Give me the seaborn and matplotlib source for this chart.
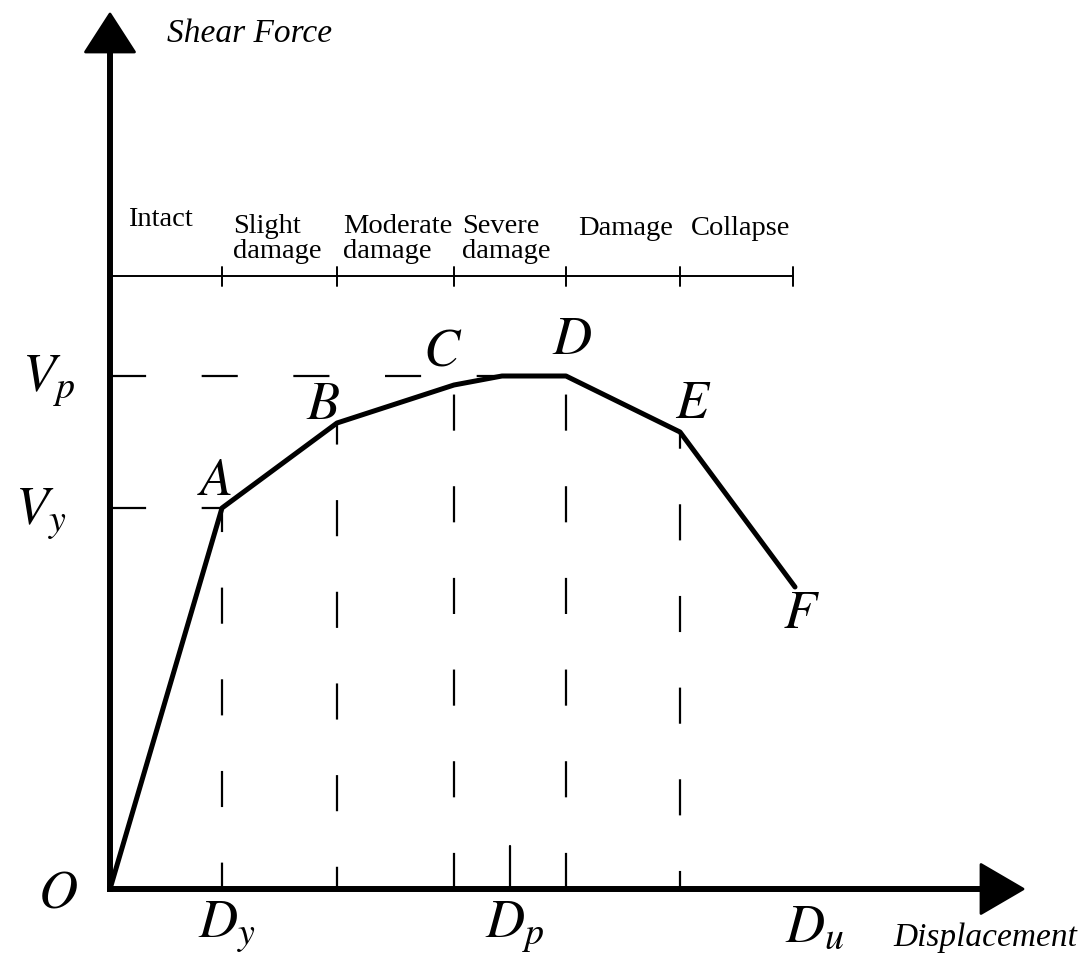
import matplotlib
matplotlib.use("Agg")
import matplotlib.pyplot as plt
import seaborn as sns

# Capacity curve points: O, A, B, C, (start of plateau), D, E, F
disp = [0.0, 1.12, 2.27, 3.44, 3.92, 4.56, 5.70, 6.85]
force = [0.0, 3.81, 4.66, 5.04, 5.13, 5.13, 4.57, 3.02]
point_names = ["O", "A", "B", "C", "", "D", "E", "F"]

# Damage states between the characteristic points
stage_labels = ["Intact", "Slight\ndamage", "Moderate\ndamage", "Severe\ndamage", "Damage", "Collapse"]
stage_bounds = [0.0, 1.12, 2.27, 3.44, 4.56, 5.70, 6.83]

# Axis marks
Dp = 4.00
x_marks = ["$D_y$", "$D_p$", "$D_u$"]
y_marks = ["$V_p$", "$V_y$"]

sns.set_style("white")
plt.rcParams["font.family"] = ["Liberation Serif", "DejaVu Serif"]
plt.rcParams["mathtext.fontset"] = "stix"
plt.rcParams["lines.scale_dashes"] = False
plt.rcParams["text.color"] = "black"

fig, ax = plt.subplots(figsize=(10.88, 9.65), dpi=100)
ax.set_position([0, 0, 1, 1])
ax.set_xlim(-1.10, 9.78)
ax.set_ylim(-0.76, 8.89)
ax.axis("off")

dash = (0, (26, 40))

# dashed guides down from A, B, C, D, E
guide_idx = [1, 2, 3, 5, 6]
guide_off = [7, 10, 0, 0, 13]
for i, off in zip(guide_idx, guide_off):
    ax.plot([disp[i], disp[i]], [0, force[i]], color="black", lw=1.6,
            ls=(off, (26, 40)), zorder=1)
# dashed guides to the force axis
ax.plot([0, disp[4]], [force[4], force[4]], color="black", lw=1.6, ls=dash, zorder=1)
ax.plot([0, disp[1]], [force[1], force[1]], color="black", lw=1.6, ls=dash, zorder=1)
# short tick at Dp
ax.plot([Dp, Dp], [0, 0.43], color="black", lw=1.6, zorder=1)

# the curve
sns.lineplot(x=disp, y=force, ax=ax, color="black", lw=3.6, sort=False,
             estimator=None, zorder=3)

# axes with arrows
ax.plot([0, 0], [-0.03, 8.40], color="black", lw=4.3, solid_capstyle="butt", zorder=4)
ax.plot([-0.03, 8.74], [0, 0], color="black", lw=4.3, solid_capstyle="butt", zorder=4)
ax.fill([-0.245, 0.245, 0], [8.37, 8.37, 8.75], color="black", lw=2, joinstyle="round", zorder=4)
ax.fill([8.71, 8.71, 9.13], [-0.245, 0.245, 0], color="black", lw=2, joinstyle="round", zorder=4)
ax.text(0.57, 8.47, "Shear Force", fontsize=24, style="italic", ha="left", va="baseline")
ax.text(7.83, -0.57, "Displacement", fontsize=24, style="italic", ha="left", va="baseline")

# damage-state band
ax.plot([0, stage_bounds[-1]], [6.13, 6.13], color="black", lw=1.4)
for b in stage_bounds[1:]:
    ax.plot([b, b], [6.03, 6.22], color="black", lw=1.4)
stage_pos = [(0.18, 6.63), (1.23, 6.31), (2.33, 6.31), (3.52, 6.31), (4.68, 6.54), (5.81, 6.54)]
for lab, (sx, sy) in zip(stage_labels, stage_pos):
    ax.text(sx, sy, lab, fontsize=20.5, ha="left", va="baseline", linespacing=1.0)

# point letters
name_pos = [(-0.52, -0.18), (1.05, 3.94), (2.13, 4.70), (3.33, 5.23), None,
            (4.62, 5.35), (5.83, 4.71), (6.91, 2.61)]
for name, pos in zip(point_names, name_pos):
    if name:
        ax.text(pos[0], pos[1], "$" + name + "$", fontsize=39, ha="center", va="baseline")

x_mark_pos = [(0.88, -0.49), (3.75, -0.49), (6.75, -0.53)]
for lab, (mx, my) in zip(x_marks, x_mark_pos):
    ax.text(mx, my, lab, fontsize=39, ha="left", va="baseline")
y_mark_pos = [(-0.88, 4.97), (-0.95, 3.64)]
for lab, (mx, my) in zip(y_marks, y_mark_pos):
    ax.text(mx, my, lab, fontsize=39, ha="left", va="baseline")

plt.savefig("out.png", dpi=100)
